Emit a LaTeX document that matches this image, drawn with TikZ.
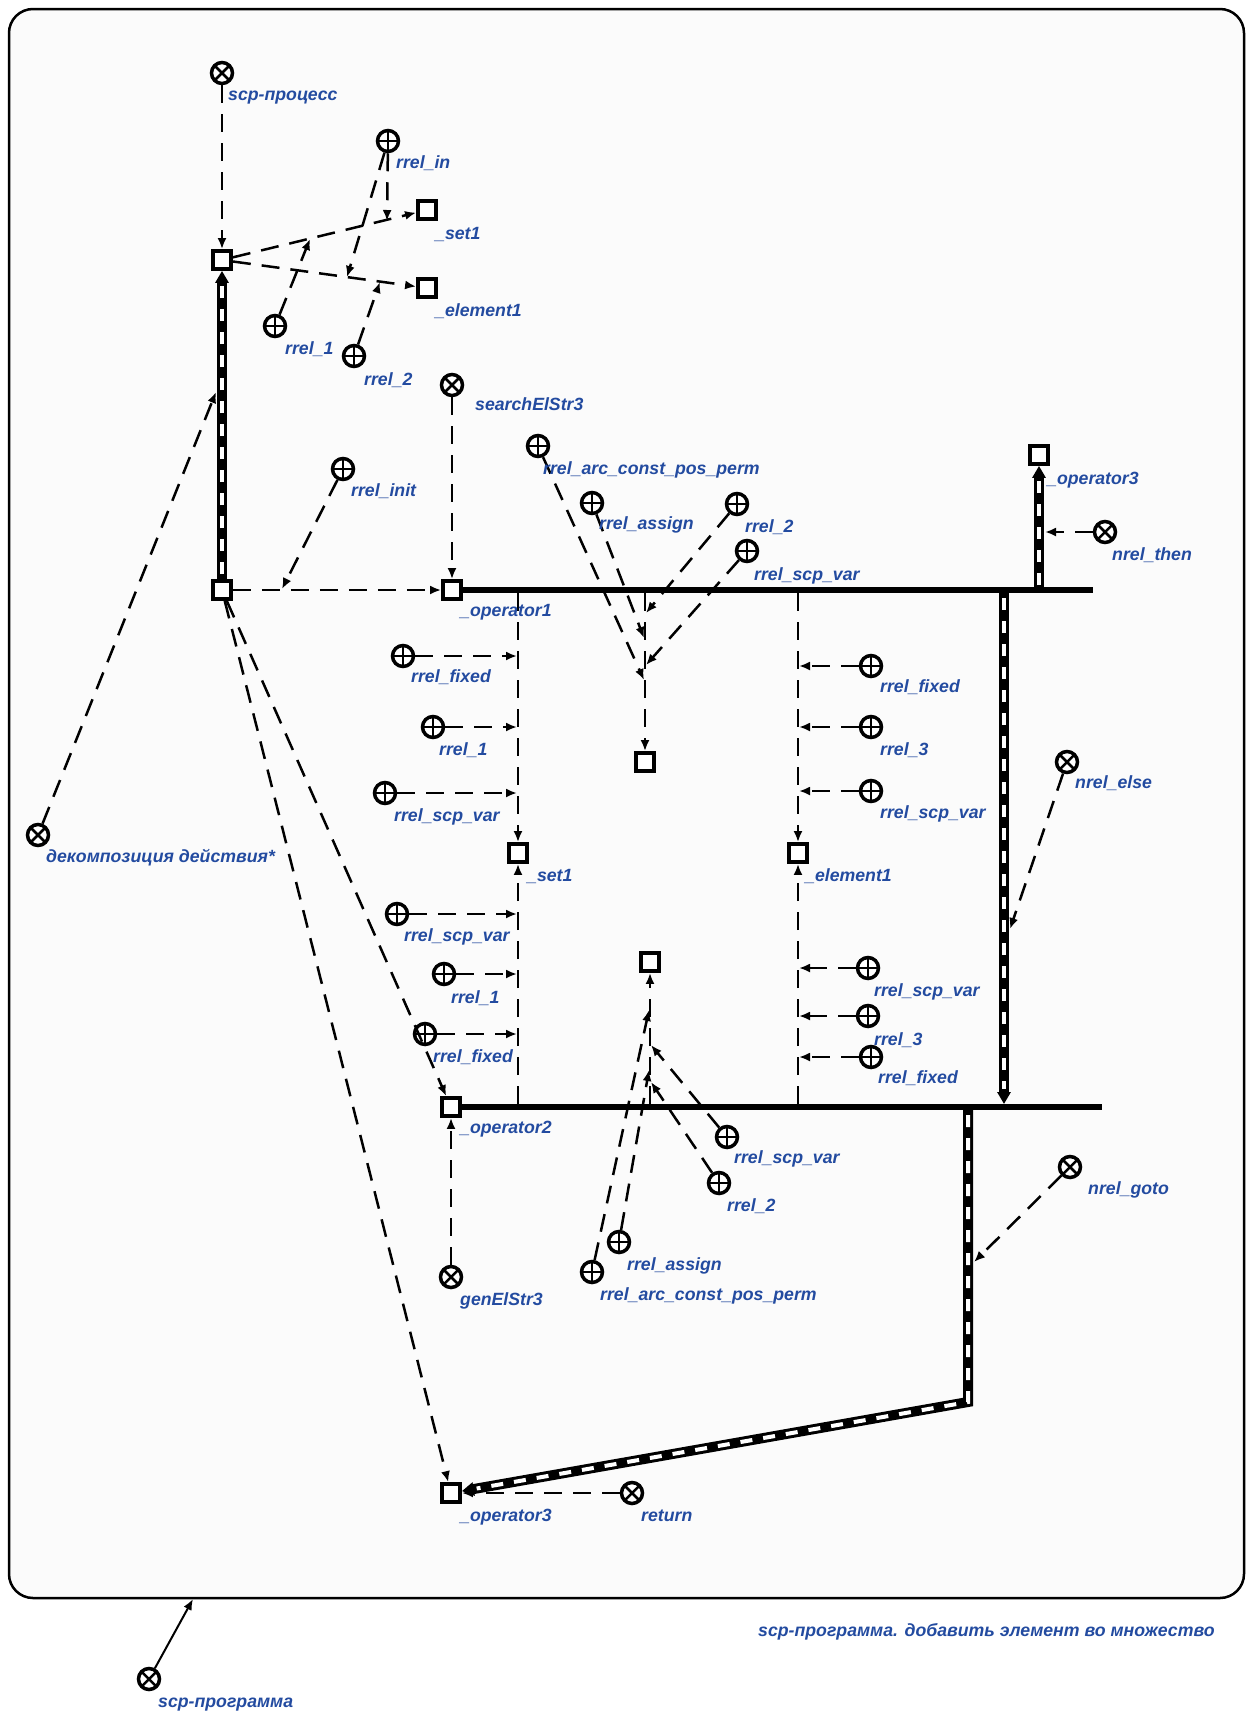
\documentclass[tikz,border=0pt]{standalone}
\usepackage{fontspec}
\setmainfont{Liberation Sans}
\usetikzlibrary{arrows.meta}
\definecolor{lblue}{RGB}{35,75,160}
\begin{document}
\begin{tikzpicture}[x=1pt,y=-1pt,
 lbl/.style={text=lblue, font=\fontsize{17.7}{20}\selectfont\bfseries\itshape, anchor=base west, inner sep=0pt, yshift=-6pt},
 sq/.style={rectangle, draw, line width=3.8pt, minimum size=18pt, inner sep=0pt, fill=white},
 vplus/.style={circle, draw, line width=3.5pt, minimum size=21pt, inner sep=0pt, fill=white,
   path picture={\draw[line width=2.5pt] (path picture bounding box.north) -- (path picture bounding box.south) (path picture bounding box.west) -- (path picture bounding box.east);}},
 vcross/.style={circle, draw, line width=3.5pt, minimum size=21pt, inner sep=0pt, fill=white,
   path picture={\draw[line width=2.5pt] (path picture bounding box.north west) -- (path picture bounding box.south east) (path picture bounding box.north east) -- (path picture bounding box.south west);}},
 dsh/.style={line width=2.5pt, dash pattern=on 18pt off 11pt, -{Latex[length=11pt,width=9pt]}},
 bus/.style={line width=6.5pt},
 stripe/.style={line width=10pt, -{Triangle[length=12pt,width=13pt]}},
 stripew/.style={white, line width=4pt, dash pattern=on 12pt off 11pt, shorten >=15pt, shorten <=5pt},
]
\useasboundingbox (0,0) rectangle (1248,1714);
\fill[white] (0,0) rectangle (1248,1714);
\draw[line width=2.5pt, rounded corners=24pt, fill=gray!3] (9,9) rectangle (1244,1598);

% nodes
\node[vcross] (proc) at (222,73) {};
\node[sq] (A) at (222,260) {};
\node[vplus] (rin) at (388,141) {};
\node[sq] (set1t) at (427,210) {};
\node[sq] (elem1t) at (427,288) {};
\node[vplus] (r1t) at (275,326) {};
\node[vplus] (r2t) at (354,356) {};
\node[vcross] (search) at (452,385) {};
\node[vcross] (decomp) at (38,835) {};
\node[sq] (B) at (222,590) {};
\node[vplus] (rinit) at (343,469) {};
\node[sq] (op1) at (452,590) {};
\node[vplus] (acp1) at (538,446) {};
\node[vplus] (asg1) at (592,503) {};
\node[vplus] (r2m) at (737,504) {};
\node[vplus] (sv1) at (747,551) {};
\node[sq] (op3t) at (1039,455) {};
\node[vcross] (then) at (1105,532) {};
\node[sq] (sq1) at (645,762) {};
\node[vplus] (L1) at (403,656) {};
\node[vplus] (L2) at (433,727) {};
\node[vplus] (L3) at (385,793) {};
\node[sq] (set1m) at (518,853) {};
\node[vplus] (R1) at (871,666) {};
\node[vplus] (R2) at (871,727) {};
\node[vplus] (R3) at (871,791) {};
\node[sq] (elem1m) at (798,853) {};
\node[vplus] (L4) at (397,914) {};
\node[vplus] (L5) at (444,974) {};
\node[vplus] (L6) at (425,1034) {};
\node[vplus] (R4) at (868,968) {};
\node[vplus] (R5) at (868,1016) {};
\node[vplus] (R6) at (871,1057) {};
\node[sq] (sq2) at (650,962) {};
\node[sq] (op2) at (451,1107) {};
\node[vplus] (B1) at (727,1137) {};
\node[vplus] (B2) at (719,1183) {};
\node[vplus] (B3) at (619,1242) {};
\node[vplus] (B4) at (592,1272) {};
\node[vcross] (else) at (1067,762) {};
\node[vcross] (goto) at (1070,1167) {};
\node[vcross] (gen) at (451,1277) {};
\node[sq] (op3b) at (451,1493) {};
\node[vcross] (ret) at (632,1493) {};
\node[vcross] (prog) at (149,1679) {};

% coordinates
\coordinate (tin1) at (387,221);
\coordinate (tin2) at (347,277);
\coordinate (tr1) at (310,239);
\coordinate (tr2) at (380,282);
\coordinate (tdec) at (216,392);
\coordinate (tinit) at (282,589);
\coordinate (bus1e) at (1093,590);
\coordinate (bus2e) at (1102,1107);
\coordinate (t0) at (1039,590);
\coordinate (tthen) at (1045,532);
\coordinate (c1m) at (645,593);
\coordinate (c1l) at (518,593);
\coordinate (c1r) at (798,593);
\coordinate (c2m) at (650,1104);
\coordinate (c2l) at (518,1104);
\coordinate (c2r) at (798,1104);
\coordinate (tacp1) at (644,680);
\coordinate (tasg1) at (644,638);
\coordinate (tr2m) at (646,613);
\coordinate (tsv1) at (646,665);
\coordinate (tL1) at (517,656);
\coordinate (tL2) at (517,727);
\coordinate (tL3) at (517,793);
\coordinate (tR1) at (799,666);
\coordinate (tR2) at (799,727);
\coordinate (tR3) at (799,791);
\coordinate (tL4) at (517,914);
\coordinate (tL5) at (517,974);
\coordinate (tL6) at (517,1034);
\coordinate (tR4) at (799,968);
\coordinate (tR5) at (799,1016);
\coordinate (tR6) at (799,1057);
\coordinate (tB1) at (651,1045);
\coordinate (tB2) at (651,1082);
\coordinate (tB3) at (649,1070);
\coordinate (tB4) at (649,1010);
\coordinate (e0) at (1004,593);
\coordinate (e1) at (1004,1104);
\coordinate (telse) at (1010,929);
\coordinate (g0) at (968,1110);
\coordinate (g1) at (968,1402);
\coordinate (tgoto) at (974,1262);
\coordinate (frb) at (193,1599);

% buses
\draw[bus] (op1.east) -- (bus1e);
\draw[bus] (op2.east) -- (bus2e);

% striped arcs
\draw[stripe] (B) -- (A);
\draw[stripew] (B) -- (A);
\draw[stripe] (t0) -- (op3t);
\draw[stripew] (t0) -- (op3t);
\draw[stripe] (e0) -- (e1);
\draw[stripew] (e0) -- (e1);
\draw[stripe] (g0) -- (g1) -- (op3b);
\draw[stripew] (g0) -- (g1) -- (op3b);

% dashed arcs
\draw[dsh] (proc) -- (A);
\draw[dsh] (A) -- (set1t);
\draw[dsh] (A) -- (elem1t);
\draw[dsh] (rin) -- (tin1);
\draw[dsh] (rin) -- (tin2);
\draw[dsh] (r1t) -- (tr1);
\draw[dsh] (r2t) -- (tr2);
\draw[dsh] (decomp) -- (tdec);
\draw[dsh] (B) -- (op1);
\draw[dsh] (rinit) -- (tinit);
\draw[dsh] (search) -- (op1);
\draw[dsh] (then) -- (tthen);
\draw[dsh] (c1m) -- (sq1);
\draw[dsh] (acp1) -- (tacp1);
\draw[dsh] (asg1) -- (tasg1);
\draw[dsh] (r2m) -- (tr2m);
\draw[dsh] (sv1) -- (tsv1);
\draw[dsh] (c1l) -- (set1m);
\draw[dsh] (L1) -- (tL1);
\draw[dsh] (L2) -- (tL2);
\draw[dsh] (L3) -- (tL3);
\draw[dsh] (c1r) -- (elem1m);
\draw[dsh] (R1) -- (tR1);
\draw[dsh] (R2) -- (tR2);
\draw[dsh] (R3) -- (tR3);
\draw[dsh] (else) -- (telse);
\draw[dsh] (c2l) -- (set1m);
\draw[dsh] (L4) -- (tL4);
\draw[dsh] (L5) -- (tL5);
\draw[dsh] (L6) -- (tL6);
\draw[dsh] (c2r) -- (elem1m);
\draw[dsh] (R4) -- (tR4);
\draw[dsh] (R5) -- (tR5);
\draw[dsh] (R6) -- (tR6);
\draw[dsh] (c2m) -- (sq2);
\draw[dsh] (B1) -- (tB1);
\draw[dsh] (B2) -- (tB2);
\draw[dsh] (B3) -- (tB3);
\draw[dsh] (B4) -- (tB4);
\draw[dsh] (B) -- (op2);
\draw[dsh] (B) -- (op3b);
\draw[dsh] (gen) -- (op2);
\draw[dsh] (goto) -- (tgoto);
\draw[dsh] (ret) -- (op3b);
\draw[line width=2pt, -{Latex[length=11pt,width=9pt]}] (prog) -- (frb);

% labels
\node[lbl] (lproc) at (228,94) {scp-процесс};
\node[lbl] (lrin) at (396,162) {rrel\_in};
\node[lbl] (lset1t) at (435,233) {\_set1};
\node[lbl] (lelem1t) at (435,310) {\_element1};
\node[lbl] (lr1t) at (285,348) {rrel\_1};
\node[lbl] (lr2t) at (364,379) {rrel\_2};
\node[lbl] (lsearch) at (475,404) {searchElStr3};
\node[lbl] (lacp1) at (543,468) {rrel\_arc\_const\_pos\_perm};
\node[lbl] (linit) at (351,490) {rrel\_init};
\node[lbl] (lasg1) at (599,523) {rrel\_assign};
\node[lbl] (lr2m) at (745,526) {rrel\_2};
\node[lbl] (lsv1) at (754,574) {rrel\_scp\_var};
\node[lbl] (lop3t) at (1047,478) {\_operator3};
\node[lbl] (lthen) at (1112,554) {nrel\_then};
\node[lbl] (lop1) at (460,610) {\_operator1};
\node[lbl] (lL1) at (411,676) {rrel\_fixed};
\node[lbl] (lL2) at (439,749) {rrel\_1};
\node[lbl] (lL3) at (394,815) {rrel\_scp\_var};
\node[lbl] (lset1m) at (527,875) {\_set1};
\node[lbl] (lelem1m) at (805,875) {\_element1};
\node[lbl] (lR1) at (880,686) {rrel\_fixed};
\node[lbl] (lR2) at (880,749) {rrel\_3};
\node[lbl] (lR3) at (880,812) {rrel\_scp\_var};
\node[lbl] (lelse) at (1075,782) {nrel\_else};
\node[lbl] (ldecomp) at (46,856) {декомпозиция действия*};
\node[lbl] (lL4) at (404,935) {rrel\_scp\_var};
\node[lbl] (lL5) at (451,997) {rrel\_1};
\node[lbl] (lL6) at (433,1056) {rrel\_fixed};
\node[lbl] (lR4) at (874,990) {rrel\_scp\_var};
\node[lbl] (lR5) at (874,1039) {rrel\_3};
\node[lbl] (lR6) at (878,1077) {rrel\_fixed};
\node[lbl] (lop2) at (460,1127) {\_operator2};
\node[lbl] (lB1) at (734,1157) {rrel\_scp\_var};
\node[lbl] (lgoto) at (1088,1188) {nrel\_goto};
\node[lbl] (lB2) at (727,1205) {rrel\_2};
\node[lbl] (lB3) at (627,1264) {rrel\_assign};
\node[lbl] (lB4) at (600,1294) {rrel\_arc\_const\_pos\_perm};
\node[lbl] (lgen) at (460,1299) {genElStr3};
\node[lbl] (lop3b) at (460,1515) {\_operator3};
\node[lbl] (lret) at (641,1515) {return};
\node[lbl] (lprog) at (158,1701) {scp-программа};
\node[lbl] (ltitle) at (758,1630) {scp-программа. добавить элемент во множество};
\end{tikzpicture}
\end{document}
